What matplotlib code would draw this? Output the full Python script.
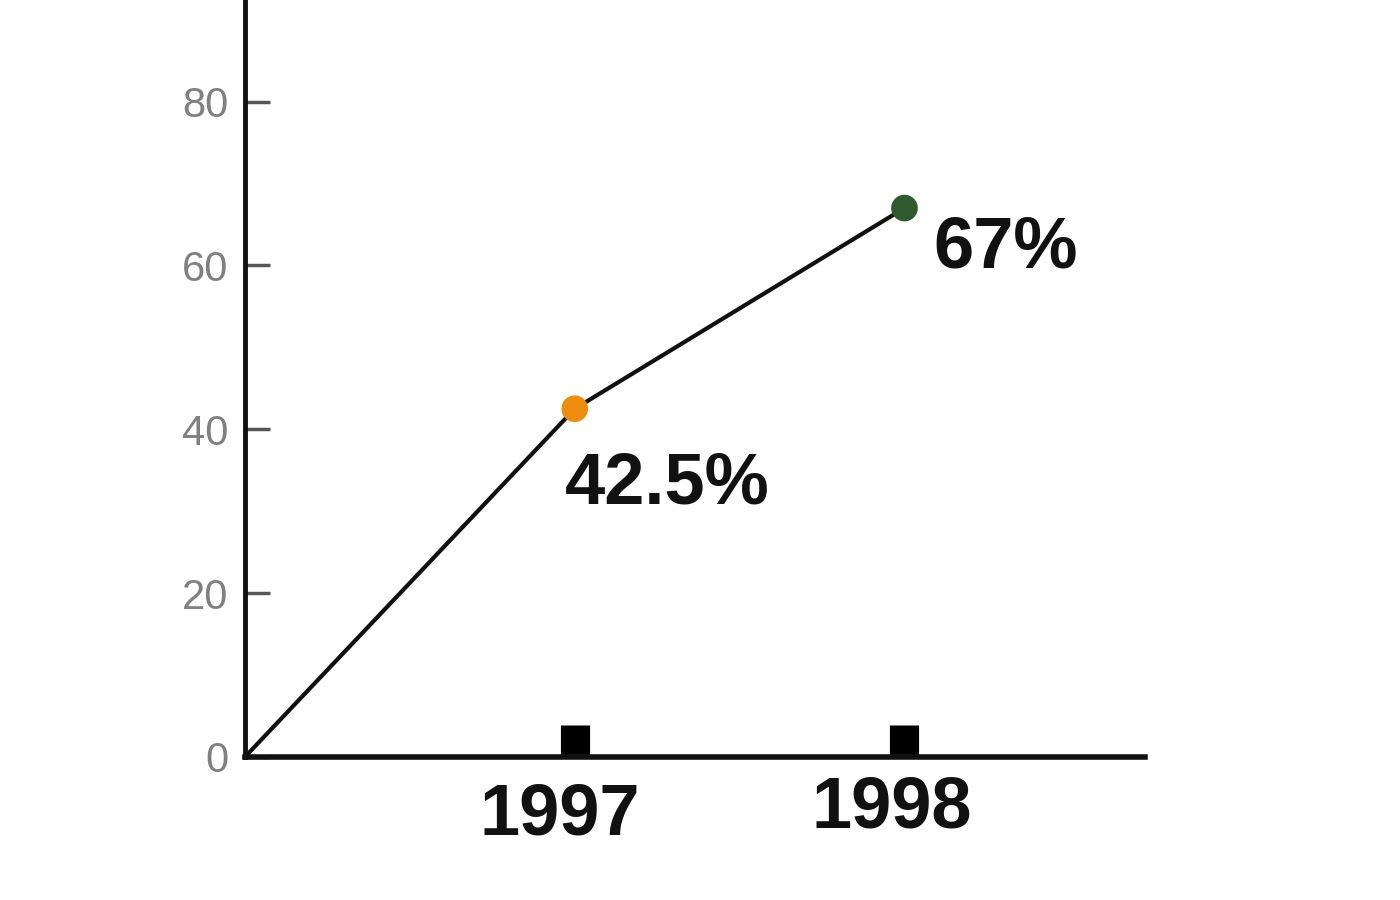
import matplotlib
matplotlib.use("Agg")
import matplotlib.pyplot as plt

# data
years = [1996, 1997, 1998]
values = [0, 42.5, 67]
point_labels = ["42.5%", "67%"]
point_colors = ["#ee8c10", "#2f5a2f"]
year_ticks = [1997, 1998]
year_labels = ["1997", "1998"]
y_ticks = [0, 20, 40, 60, 80]

plt.rcParams['font.family'] = ['Liberation Sans', 'DejaVu Sans']

fig = plt.figure(figsize=(14, 9), dpi=100)
ax = fig.add_axes([0.175, 0.159, 0.643, 0.841])

ax.plot(years, values, color="#111111", lw=3, zorder=2, clip_on=False)
ax.scatter(years[1:], values[1:], s=330, c=point_colors, zorder=3, clip_on=False)

# value labels below/right of the points
offsets = [(-7, -68), (21, -43)]
for x, y, lab, off in zip(years[1:], values[1:], point_labels, offsets):
    ax.annotate(lab, (x, y), xytext=off, textcoords="offset points",
                ha="left", va="baseline", fontsize=52, fontweight="bold",
                color="#111111")

ax.set_xlim(1996, 1998.73)
ax.set_ylim(0, 92.4)

for side in ["top", "right"]:
    ax.spines[side].set_visible(False)
ax.spines["left"].set_linewidth(3.5)
ax.spines["bottom"].set_linewidth(4)
ax.spines["left"].set_color("#111111")
ax.spines["bottom"].set_color("#111111")

ax.set_yticks(y_ticks)
ax.set_yticklabels([str(t) for t in y_ticks])
ax.tick_params(axis="y", direction="in", length=18, width=2.5, color="#555555",
               labelsize=30, labelcolor="#808080", pad=12)

ax.set_xticks(year_ticks)
ax.set_xticklabels([])
ax.tick_params(axis="x", direction="in", length=23, width=21, color="black")

# year labels drawn under the ticks
label_offsets = [(-11, -56), (-9, -51)]
for x, lab, off in zip(year_ticks, year_labels, label_offsets):
    ax.annotate(lab, (x, 0), xytext=off, textcoords="offset points",
                ha="center", va="baseline", fontsize=52, fontweight="bold",
                color="#111111", annotation_clip=False)

fig.savefig("out.png", dpi=100, facecolor="white")
